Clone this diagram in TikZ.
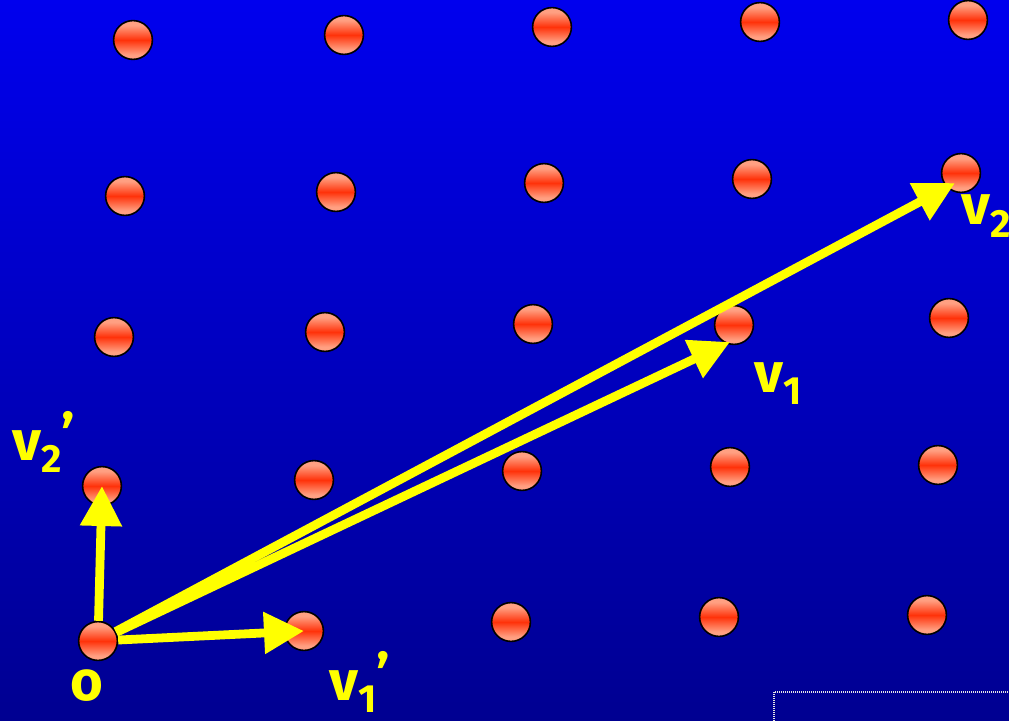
\documentclass[tikz,border=0pt]{standalone}
\usepackage{fontspec}
\setmainfont{Fira Sans}
\usetikzlibrary{arrows.meta}

\definecolor{bgtop}{RGB}{0,0,238}
\definecolor{bgbot}{RGB}{0,0,145}
\definecolor{ballmid}{RGB}{255,50,10}
\definecolor{ballrim}{RGB}{255,160,130}
\definecolor{vecyellow}{RGB}{255,255,0}

\pgfdeclareverticalshading{ballshade}{100bp}{color(0bp)=(ballrim); color(31bp)=(ballrim);
  color(50bp)=(ballmid); color(69bp)=(ballrim); color(100bp)=(ballrim)}

\newcommand{\lsub}[1]{\raisebox{-9pt}{\fontsize{28}{28}\selectfont #1}}
\newcommand{\lprime}{\raisebox{4pt}{’}}

\begin{document}
\begin{tikzpicture}[
  x=0.25mm, y=-0.25mm,
  ball/.style={circle, draw=black, line width=0.4mm, minimum size=9.7mm, inner sep=0pt,
    shading=ballshade},
  vec/.style={-{Triangle[length=10mm, width=10mm]}, line width=2.2mm, draw=vecyellow},
  lab/.style={text=vecyellow, font=\fontsize{40}{44}\selectfont\bfseries,
    inner sep=0pt, anchor=base west}
]
  \shade[top color=bgtop, bottom color=bgbot] (0,0) rectangle (1009,721);
  \useasboundingbox (0,0) rectangle (1009,721);
  \draw[white!80!gray, line width=0.3mm, dash pattern=on 0.25mm off 0.25mm]
    (774,721) -- (774,692) -- (1009,692);

  % lattice points, p<column><row>, row 0 at the bottom
  \node[ball] (p00) at (98,641) {};
  \node[ball] (p10) at (304,631) {};
  \node[ball] (p20) at (511,622) {};
  \node[ball] (p30) at (719,617) {};
  \node[ball] (p40) at (927,615) {};

  \node[ball] (p01) at (102,486) {};
  \node[ball] (p11) at (314,480) {};
  \node[ball] (p21) at (522,471) {};
  \node[ball] (p31) at (730,467) {};
  \node[ball] (p41) at (938,465) {};

  \node[ball] (p02) at (114,337) {};
  \node[ball] (p12) at (325,332) {};
  \node[ball] (p22) at (533,324) {};
  \node[ball] (p32) at (734,325) {};
  \node[ball] (p42) at (949,318) {};

  \node[ball] (p03) at (125,196) {};
  \node[ball] (p13) at (336,192) {};
  \node[ball] (p23) at (544,183) {};
  \node[ball] (p33) at (752,179) {};
  \node[ball] (p43) at (961,173) {};

  \node[ball] (p04) at (133,40) {};
  \node[ball] (p14) at (344,35) {};
  \node[ball] (p24) at (552,27) {};
  \node[ball] (p34) at (760,22) {};
  \node[ball] (p44) at (968,20) {};

  \coordinate (v1tip) at (730,342);
  \coordinate (v2tip) at (955,183);

  \draw[vec] (p00) -- (v1tip);
  \draw[vec] (p00) -- (v2tip);
  \draw[vec] (p00) -- (p10.center);
  \draw[vec] (p00) -- (p01.center);

  \node[lab] (lo) at (70,700) {o};
  \node[lab] (lv1) at (754,392) {v\lsub{1}};
  \node[lab] (lv2) at (961,225) {v\lsub{2}};
  \node[lab] (lv1p) at (329,700) {v\lsub{1}\lprime};
  \node[lab] (lv2p) at (12,460) {v\lsub{2}\lprime};
\end{tikzpicture}
\end{document}
